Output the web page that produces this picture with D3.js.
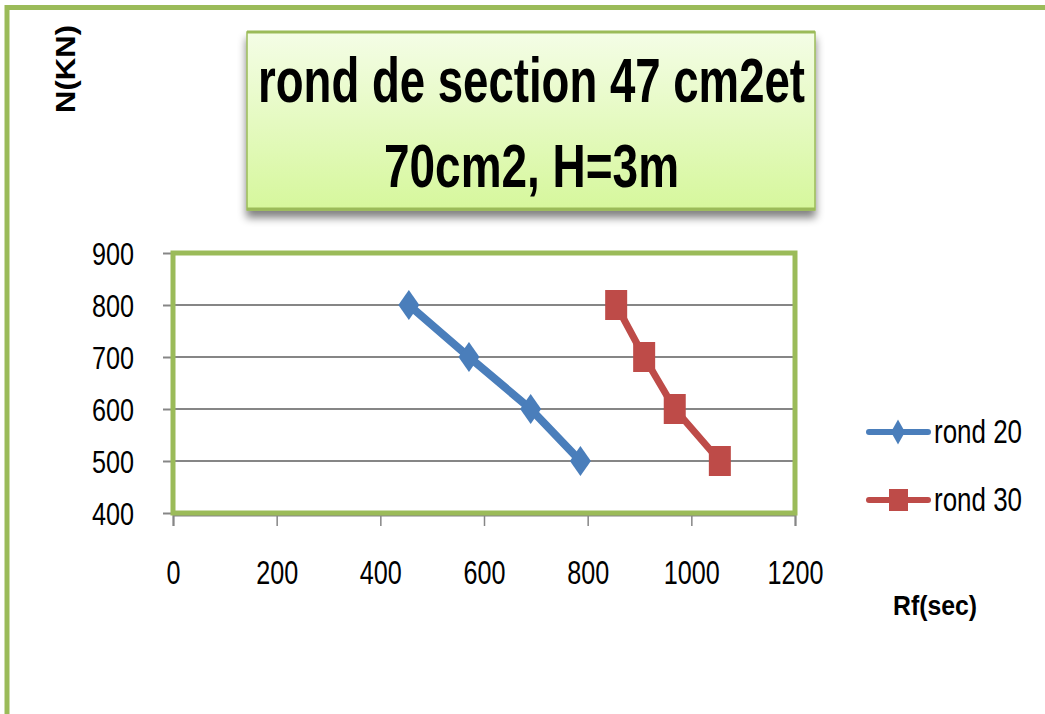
<!DOCTYPE html>
<html><head><meta charset="utf-8">
<script src="https://cdn.jsdelivr.net/npm/d3@7"></script>
<style>html,body{margin:0;padding:0;background:#fff;}svg{display:block;}</style>
</head><body>
<script>
// ---- data ----
const seriesNames = ["rond 20", "rond 30"];
const rond20X = [455, 571, 690, 786];
const rond20Y = [800, 700, 600, 500];
const rond30X = [855, 909, 968, 1055];
const rond30Y = [800, 700, 600, 500];
const xTicks = [0, 200, 400, 600, 800, 1000, 1200];
const yTicks = [400, 500, 600, 700, 800, 900];
const titleLines = ["rond de section 47 cm2et", "70cm2, H=3m"];
const xTitle = "Rf(sec)";
const yTitle = "N(KN)";

const W = 1045, H = 714;
const green = "#9bbb59", blue = "#4a7ebb", red = "#be4b48", grid = "#868686";
const font = "'Liberation Sans',Arial,sans-serif";

const svg = d3.select("body").append("svg").attr("width", W).attr("height", H);
const defs = svg.append("defs");
const grad = defs.append("linearGradient").attr("id", "tg").attr("x1", 0).attr("y1", 0).attr("x2", 0).attr("y2", 1);
grad.append("stop").attr("offset", "0%").attr("stop-color", "#f4fde6");
grad.append("stop").attr("offset", "100%").attr("stop-color", "#d6f79c");
const sh = defs.append("filter").attr("id", "sh").attr("x", "-5%").attr("y", "-5%").attr("width", "110%").attr("height", "130%");
sh.append("feGaussianBlur").attr("in", "SourceAlpha").attr("stdDeviation", 4).attr("result", "b");
sh.append("feOffset").attr("in", "b").attr("dy", 7).attr("result", "o");
sh.append("feComponentTransfer").attr("in", "o").attr("result", "o2").append("feFuncA").attr("type", "linear").attr("slope", 0.5);
const fm = sh.append("feMerge"); fm.append("feMergeNode").attr("in", "o2"); fm.append("feMergeNode").attr("in", "SourceGraphic");

// outer frame
svg.append("line").attr("x1", 7).attr("x2", W).attr("y1", 7.5).attr("y2", 7.5).attr("stroke", green).attr("stroke-width", 5);
svg.append("line").attr("x1", 7).attr("x2", 7).attr("y1", 5).attr("y2", H).attr("stroke", green).attr("stroke-width", 5);

// scales
const x = d3.scaleLinear().domain([0, 1200]).range([173, 795]);
const y = d3.scaleLinear().domain([400, 900]).range([513, 253]);

// gridlines
svg.append("g").selectAll("line").data(yTicks.filter(d => d > 400 && d < 900)).join("line")
  .attr("x1", x(0)).attr("x2", x(1200)).attr("y1", d => y(d)).attr("y2", d => y(d))
  .attr("stroke", grid).attr("stroke-width", 2);

const digitW = 14;
// y axis
const yAx = svg.append("g").attr("transform", `translate(${x(0)},0)`)
  .call(d3.axisLeft(y).tickValues(yTicks).tickSize(10).tickPadding(29).tickFormat(d3.format("d")));
yAx.select(".domain").remove();
yAx.selectAll(".tick line").attr("stroke", grid).attr("stroke-width", 2);
yAx.selectAll(".tick text").attr("font-family", font).attr("font-size", 32).attr("fill", "#000").attr("dy", "0.36em")
  .attr("textLength", d => String(d).length * digitW).attr("lengthAdjust", "spacingAndGlyphs");

// x axis
const xAx = svg.append("g").attr("transform", `translate(0,${y(400) + 2})`)
  .call(d3.axisBottom(x).tickValues(xTicks).tickSize(11).tickPadding(34).tickFormat(d3.format("d")));
xAx.select(".domain").attr("stroke", grid).attr("stroke-width", 2);
xAx.selectAll(".tick line").attr("stroke", grid).attr("stroke-width", 1.5);
xAx.selectAll(".tick text").attr("font-family", font).attr("font-size", 34).attr("fill", "#000")
  .attr("textLength", d => String(d).length * digitW).attr("lengthAdjust", "spacingAndGlyphs");

// plot border
svg.append("rect").attr("x", x(0)).attr("y", y(900)).attr("width", x(1200) - x(0)).attr("height", y(400) - y(900))
  .attr("fill", "none").attr("stroke", green).attr("stroke-width", 5);

// series
const line = d3.line().x(d => x(d[0])).y(d => y(d[1]));
const s20 = rond20X.map((v, i) => [v, rond20Y[i]]);
const s30 = rond30X.map((v, i) => [v, rond30Y[i]]);
svg.append("path").datum(s20).attr("d", line).attr("fill", "none").attr("stroke", blue).attr("stroke-width", 8).attr("stroke-linejoin", "round");
svg.append("path").datum(s30).attr("d", line).attr("fill", "none").attr("stroke", red).attr("stroke-width", 7).attr("stroke-linejoin", "round");
const diamond = (cx, cy, w, h) => `M${cx},${cy - h / 2}L${cx + w / 2},${cy}L${cx},${cy + h / 2}L${cx - w / 2},${cy}Z`;
svg.append("g").selectAll("path").data(s20).join("path")
  .attr("d", d => diamond(x(d[0]), y(d[1]), 21, 30)).attr("fill", blue);
svg.append("g").selectAll("rect").data(s30).join("rect")
  .attr("x", d => x(d[0]) - 11).attr("y", d => y(d[1]) - 15).attr("width", 22).attr("height", 30).attr("fill", red);

// legend
const lg = [{ n: seriesNames[0], c: blue, y: 432 }, { n: seriesNames[1], c: red, y: 500 }];
lg.forEach((d, i) => {
  svg.append("line").attr("x1", 869).attr("x2", 928).attr("y1", d.y).attr("y2", d.y).attr("stroke", d.c).attr("stroke-width", 6).attr("stroke-linecap", "round");
  if (i === 0) svg.append("path").attr("d", diamond(898, d.y, 14, 25)).attr("fill", d.c);
  else svg.append("rect").attr("x", 889).attr("y", d.y - 11).attr("width", 19).attr("height", 22).attr("fill", d.c);
  svg.append("text").attr("x", 934).attr("y", d.y + 11).attr("font-family", font).attr("font-size", 33)
    .attr("textLength", 88).attr("lengthAdjust", "spacingAndGlyphs").text(d.n);
});

// axis titles
svg.append("text").attr("x", 893).attr("y", 615).attr("font-family", font).attr("font-weight", "bold").attr("font-size", 28)
  .attr("textLength", 84).attr("lengthAdjust", "spacingAndGlyphs").text(xTitle);
svg.append("text").attr("transform", "translate(75,113) rotate(-90)").attr("font-family", font)
  .attr("font-weight", "bold").attr("font-size", 27).attr("textLength", 88).attr("lengthAdjust", "spacingAndGlyphs").text(yTitle);

// title box
const tb = svg.append("g");
tb.append("rect").attr("x", 247).attr("y", 32).attr("width", 568).attr("height", 178).attr("fill", "url(#tg)")
  .attr("stroke", green).attr("stroke-width", 1.5).attr("filter", "url(#sh)");
tb.append("line").attr("x1", 247).attr("x2", 815).attr("y1", 32).attr("y2", 32).attr("stroke", green).attr("stroke-width", 3);
tb.append("line").attr("x1", 247).attr("x2", 815).attr("y1", 209).attr("y2", 209).attr("stroke", green).attr("stroke-width", 3);
tb.append("text").attr("x", 258).attr("y", 102).attr("font-family", font).attr("font-weight", "bold").attr("font-size", 63)
  .attr("textLength", 547).attr("lengthAdjust", "spacingAndGlyphs").text(titleLines[0]);
tb.append("text").attr("x", 384).attr("y", 187).attr("font-family", font).attr("font-weight", "bold").attr("font-size", 62)
  .attr("textLength", 295).attr("lengthAdjust", "spacingAndGlyphs").text(titleLines[1]);
</script>
</body></html>
